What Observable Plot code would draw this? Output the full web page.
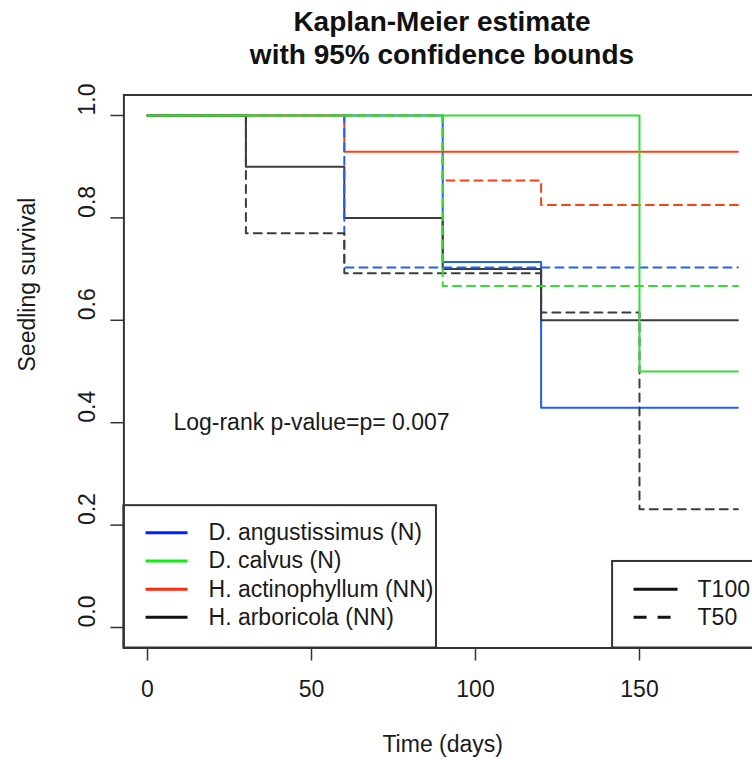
<!DOCTYPE html>
<html>
<head>
<meta charset="utf-8">
<script src="https://cdn.jsdelivr.net/npm/d3@7"></script>
<script src="https://cdn.jsdelivr.net/npm/@observablehq/plot@0.6"></script>
<style>
  html, body { margin: 0; padding: 0; background: #fff; }
  #wrap { position: relative; width: 752px; height: 760px; overflow: hidden; background: #fff;
          font-family: "Liberation Sans", Arial, sans-serif; color: #111; }
  #title { position: absolute; left: 0; top: 5px; width: 884px; text-align: center;
           font-weight: bold; font-size: 28px; line-height: 33px; }
  #chart { position: absolute; left: 0; top: 80px; width: 770px; }
  #chart svg { max-width: none !important; }
</style>
</head>
<body>
<div id="wrap">
  <div id="title">Kaplan-Meier estimate<br>with 95% confidence bounds</div>
  <div id="chart"></div>
</div>
<script>
// ---------- data ----------
const species = ["D. angustissimus (N)", "D. calvus (N)", "H. actinophyllum (NN)", "H. arboricola (NN)"];
const treatments = ["T100", "T50"];
const curveColors = ["#1f5fff", "#33dd33", "#ff4010", "#3c3c3c"];
const legendColors = ["#0022ff", "#11ee11", "#ff2a10", "#111111"];
const xTicks = [0, 50, 100, 150];
const yTicks = [0.0, 0.2, 0.4, 0.6, 0.8, 1.0];

// step points [time (days), survival]
const angT100 = [[0, 1], [90, 0.714], [120, 0.429], [180, 0.429]];
const angT50  = [[0, 1], [60, 0.703], [180, 0.703]];
const calT100 = [[0, 1], [150, 0.5], [180, 0.5]];
const calT50  = [[0, 1], [90, 0.667], [180, 0.667]];
const actT100 = [[0, 1], [60, 0.929], [180, 0.929]];
const actT50  = [[0, 1], [90, 0.873], [120, 0.825], [180, 0.825]];
const arbT100 = [[0, 1], [30, 0.9], [60, 0.8], [90, 0.7], [120, 0.6], [180, 0.6]];
const arbT50  = [[0, 1], [30, 0.77], [60, 0.692], [120, 0.615], [150, 0.231], [180, 0.231]];

const pText = "Log-rank p-value=p= 0.007";
const pLabel = {x: 7.9, y: 0.4};

// ---------- layout ----------
const xDomain = [-7.2, 187.2];
const yDomain = [-0.04, 1.04];
const legRowsY = [0.185, 0.130, 0.0746, 0.0201];
const leg1 = {x1: -7.2, x2: 88.1, y1: -0.04, y2: 0.238, lineX1: -0.6, lineX2: 12.2, textX: 18.6};
const leg2 = {x1: 141.8, x2: 190, y1: -0.04, y2: 0.129, lineX1: 148.2, lineX2: 161.6, textX: 167.7};

// drawing order
const curves = [
  {sp: 0, tr: "T100", pts: angT100},
  {sp: 2, tr: "T100", pts: actT100},
  {sp: 3, tr: "T100", pts: arbT100},
  {sp: 0, tr: "T50", pts: angT50},
  {sp: 2, tr: "T50", pts: actT50},
  {sp: 3, tr: "T50", pts: arbT50},
  {sp: 1, tr: "T50", pts: calT50},
  {sp: 1, tr: "T100", pts: calT100}
];

const textColor = "#1a1a1a";
const fs = 23;

const marks = [];
// curves
for (const c of curves) {
  marks.push(Plot.line(c.pts, {
    x: d => d[0], y: d => d[1], curve: "step-after",
    stroke: curveColors[c.sp], strokeWidth: 2,
    strokeDasharray: c.tr === "T50" ? "8,6" : null
  }));
}
// p-value annotation
marks.push(Plot.text([pText], {x: pLabel.x, y: pLabel.y, text: d => d, textAnchor: "start",
  fontSize: fs, fill: textColor}));

// legend 1 (species)
marks.push(Plot.rect([leg1], {x1: "x1", x2: "x2", y1: "y1", y2: "y2", fill: "white", stroke: "#333", strokeWidth: 2}));
species.forEach((s, i) => {
  marks.push(Plot.link([legRowsY[i]], {x1: leg1.lineX1, x2: leg1.lineX2, y1: d => d, y2: d => d,
    stroke: legendColors[i], strokeWidth: 3}));
  marks.push(Plot.text([s], {x: leg1.textX, y: legRowsY[i], text: d => d, textAnchor: "start",
    fontSize: fs, fill: textColor}));
});
// legend 2 (treatments)
marks.push(Plot.rect([leg2], {x1: "x1", x2: "x2", y1: "y1", y2: "y2", fill: "white", stroke: "#333", strokeWidth: 2}));
treatments.forEach((t, i) => {
  const ry = legRowsY[2 + i];
  marks.push(Plot.link([ry], {x1: leg2.lineX1, x2: leg2.lineX2, y1: d => d, y2: d => d,
    stroke: "#111", strokeWidth: 3, strokeDasharray: t === "T50" ? "13,11" : null}));
  marks.push(Plot.text([t], {x: leg2.textX, y: ry, text: d => d, textAnchor: "start",
    fontSize: fs, fill: textColor}));
});

// frame and axes
marks.push(Plot.frame({stroke: "#333", strokeWidth: 2}));
marks.push(Plot.axisX({ticks: xTicks, tickSize: 13, tickFormat: () => "", label: null, stroke: "#333", strokeWidth: 1.5}));
marks.push(Plot.axisY({ticks: yTicks, tickSize: 13, tickFormat: () => "", label: null, stroke: "#333", strokeWidth: 1.5}));
marks.push(Plot.text(xTicks, {x: d => d, frameAnchor: "bottom", dy: 48.5, text: d => String(d),
  fontSize: fs, fill: textColor}));
marks.push(Plot.text(yTicks, {y: d => d, frameAnchor: "left", dx: -36, rotate: -90,
  text: d => d.toFixed(1), fontSize: fs, fill: textColor}));
marks.push(Plot.text(["Time (days)"], {frameAnchor: "bottom", dy: 103.5, text: d => d,
  fontSize: fs, fill: textColor}));
marks.push(Plot.text(["Seedling survival"], {frameAnchor: "left", dx: -96.4, rotate: -90, text: d => d,
  fontSize: fs, fill: textColor}));

const chart = Plot.plot({
  width: 770,
  height: 680,
  marginLeft: 123.4,
  marginRight: 9,
  marginTop: 14.5,
  marginBottom: 112.5,
  x: {domain: xDomain, axis: null},
  y: {domain: yDomain, axis: null},
  style: {fontFamily: "'Liberation Sans', Arial, sans-serif", fontSize: fs + "px", background: "white", overflow: "visible", maxWidth: "none"},
  marks
});
document.getElementById("chart").appendChild(chart);
</script>
</body>
</html>
